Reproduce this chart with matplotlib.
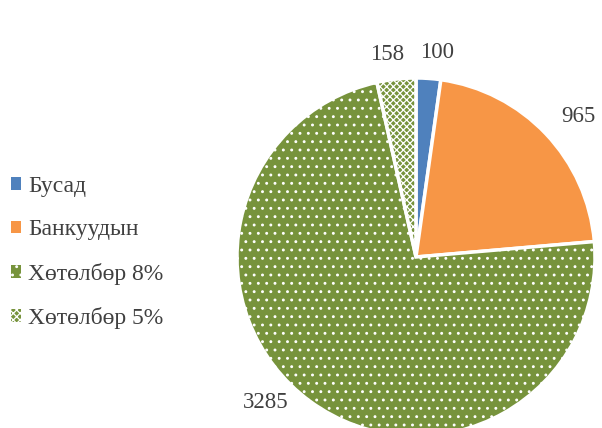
import matplotlib.pyplot as plt
from matplotlib.patches import Patch
import numpy as np

# data
labels = ['Бусад', 'Банкуудын', 'Хөтөлбөр 8%', 'Хөтөлбөр 5%']
values = [100, 965, 3285, 158]
colors = ['#4F81BD', '#F79646', '#77933C', '#77933C']
hatches = [None, None, '..', 'xxxxx']

# label placement (angle in degrees, distance in radii)
label_ang = [84, 41, -136, 98]
label_dist = [1.15, 1.20, 1.17, 1.14]

plt.rcParams['font.family'] = ['Liberation Serif', 'DejaVu Serif']
plt.rcParams['hatch.color'] = 'white'
plt.rcParams['hatch.linewidth'] = 0.9

fig = plt.figure(figsize=(6.02, 4.28), dpi=100)
ax = fig.add_axes([0, 0, 1, 1])

cx, cy, r = 416, 171, 179
wedges, texts = ax.pie(values, colors=colors, startangle=90, counterclock=False,
                       center=(cx, cy), radius=r,
                       labels=[str(v) for v in values],
                       wedgeprops=dict(edgecolor='white', linewidth=2.5),
                       textprops=dict(fontsize=16.5, color='#404040'),
                       frame=True)
ax.set_xlim(0, 602)
ax.set_ylim(0, 428)
ax.axis('off')
for w, h in zip(wedges, hatches):
    if h:
        w.set_hatch(h)
for t, a, d in zip(texts, label_ang, label_dist):
    t.set_position((cx + d * r * np.cos(np.radians(a)), cy + d * r * np.sin(np.radians(a))))
    t.set_ha('center')
    t.set_va('center')

handles = []
for c, h in zip(colors, hatches):
    handles.append(Patch(facecolor=c, edgecolor='white', hatch=h, linewidth=0))
ax.legend(handles, labels, loc='center left', bbox_to_anchor=(-0.01, 0.41),
          frameon=False, fontsize=17, handlelength=0.45, handleheight=0.45,
          handletextpad=0.3, labelspacing=0.95, borderpad=0.2,
          labelcolor='#404040')

fig.savefig('out.png', dpi=100)
